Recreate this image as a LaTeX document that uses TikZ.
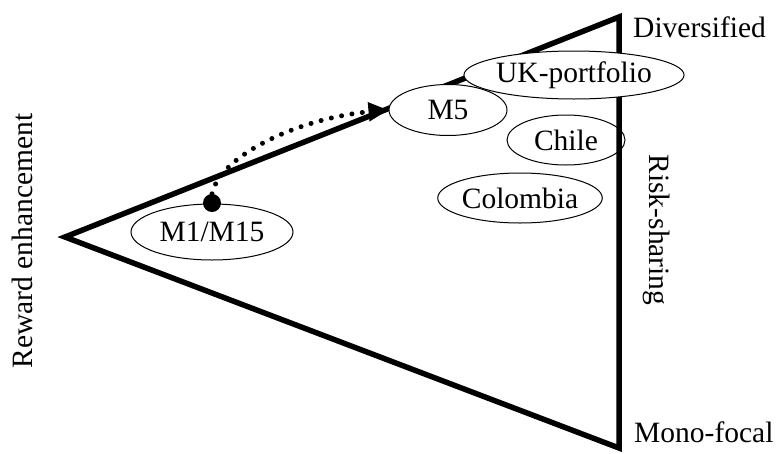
\documentclass[tikz,border=0pt]{standalone}
\usepackage{fontspec}
\setmainfont{Liberation Serif}
\usetikzlibrary{shapes.geometric,arrows.meta}
\begin{document}
\begin{tikzpicture}[x=1pt,y=-1pt,
  every node/.style={font=\fontsize{29.5}{34}\selectfont},
  oval/.style={ellipse,draw,line width=1pt,inner sep=0pt},
  frame/.style={line width=5.5pt,line join=miter},
  caption/.style={inner sep=0pt}]
\useasboundingbox (0,0) rectangle (776,453);

% triangle frame
\coordinate (L) at (65,237);
\coordinate (T) at (619,17);
\coordinate (B) at (619,448);
\draw[frame] (T) -- (L) -- (B) -- cycle;

% corner and side captions
\node[caption,anchor=base west] (div) at (633,37) {Diversified};
\node[caption,anchor=base west] (mono) at (634,442) {Mono-focal};
\node[caption,rotate=-90] (risk) at (657,230) {Risk-sharing};
\node[caption,rotate=90] (reward) at (22,241) {Reward enhancement};

% positions
\node[oval,fill=white,minimum width=162pt,minimum height=56pt] (m1) at (212,232) {M1/M15};
\node[oval,fill=white,minimum width=118pt,minimum height=51pt] (m5) at (448,110) {M5};
\node[oval,fill=white,minimum width=192pt,minimum height=48pt] (uk) at (574,75) {UK-portfolio};
\node[oval,minimum width=118pt,minimum height=50pt] (chile) at (566,140) {Chile};
\node[oval,fill=white,minimum width=130pt,minimum height=50pt] (col) at (520,198) {Colombia};

% movement from M1/M15 towards M5
\node[circle,fill,inner sep=0pt,minimum size=18pt] (dot) at (212,203) {};
\draw[line width=5pt,line cap=round,dash pattern=on 0pt off 10.5pt,
      -{Triangle[length=20pt,width=18pt,sharp]}]
  (dot.north) .. controls (220,155) and (300,118) .. (m5.west);
\end{tikzpicture}
\end{document}
